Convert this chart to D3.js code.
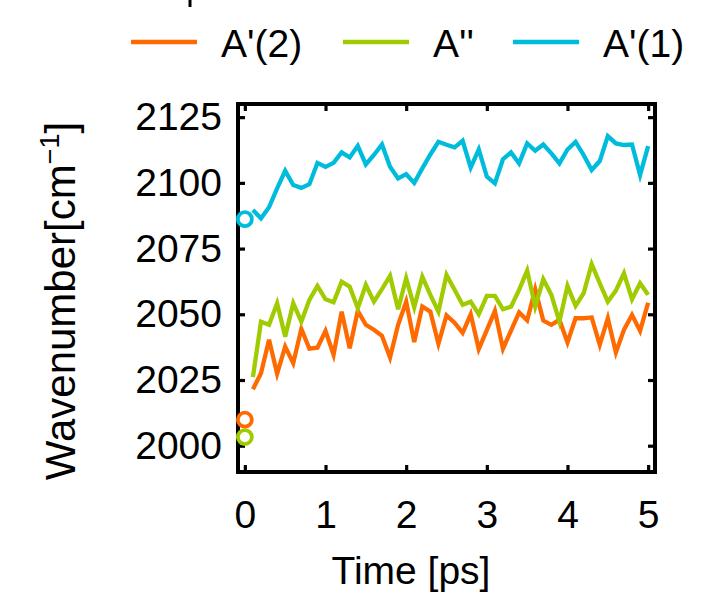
<!DOCTYPE html>
<html>
<head>
<meta charset="utf-8">
<script src="https://cdn.jsdelivr.net/npm/d3@7"></script>
<style>
  html, body { margin: 0; padding: 0; background: #ffffff; }
  svg { display: block; }
  text { font-family: "Liberation Sans", Arial, Helvetica, sans-serif; fill: #000; }
</style>
</head>
<body>
<svg id="chart" width="715" height="592"></svg>
<script>
// Time axis (ps): one sample every 0.1 ps from 0.1 to 5.0
const times = [0.1,0.2,0.3,0.4,0.5,0.6,0.7,0.8,0.9,1.0,
               1.1,1.2,1.3,1.4,1.5,1.6,1.7,1.8,1.9,2.0,
               2.1,2.2,2.3,2.4,2.5,2.6,2.7,2.8,2.9,3.0,
               3.1,3.2,3.3,3.4,3.5,3.6,3.7,3.8,3.9,4.0,
               4.1,4.2,4.3,4.4,4.5,4.6,4.7,4.8,4.9,5.0];

// Wavenumbers (cm^-1) of each mode
const aPrime2 = [2021.5,2027.6,2040.3,2027.4,2037.7,2031.4,2044.5,2036.9,2037.3,2043.7,
                 2034.6,2051.0,2037.1,2051.3,2046.0,2044.1,2041.8,2033.6,2046.0,2054.8,
                 2039.4,2053.0,2051.0,2038.8,2049.6,2046.8,2042.9,2050.0,2036.8,2044.0,
                 2051.3,2036.9,2043.8,2050.7,2047.7,2059.5,2047.6,2046.0,2047.9,2039.3,
                 2048.5,2048.5,2048.8,2038.4,2048.5,2035.5,2044.1,2049.8,2043.7,2054.4];

const aDouble = [2026.1,2047.2,2046.0,2054.2,2041.5,2054.2,2047.2,2055.5,2060.8,2055.7,
                 2054.6,2062.4,2060.5,2052.3,2061.2,2054.8,2059.6,2064.6,2051.9,2063.7,
                 2052.7,2064.3,2057.4,2051.0,2065.0,2059.3,2053.6,2054.8,2050.0,2057.0,
                 2057.0,2051.9,2052.9,2059.3,2066.6,2052.9,2063.3,2057.4,2047.2,2060.8,
                 2053.2,2058.0,2069.1,2061.8,2054.8,2059.0,2065.6,2055.7,2061.8,2057.4];

const aPrime1 = [2089.7,2086.5,2090.7,2097.9,2104.6,2099.2,2098.1,2099.5,2107.6,2106.1,
                 2107.6,2111.6,2109.7,2114.1,2107.0,2110.6,2114.6,2106.1,2101.7,2103.3,
                 2100.0,2105.5,2110.8,2115.6,2114.5,2113.5,2116.0,2105.8,2112.7,2102.4,
                 2099.8,2109.0,2111.6,2107.4,2115.0,2112.2,2114.6,2111.2,2107.4,2112.7,
                 2115.6,2110.6,2104.9,2108.3,2117.8,2115.0,2114.4,2114.6,2103.0,2114.0];

// Starting (t = 0) values shown as open circles
const startTimes = [0, 0, 0];
const startValues = [2009.9, 2003.3, 2086.2];

const seriesNames = ["A'(2)", "A''", "A'(1)"];
const seriesColors = ["#ff6a00", "#9fcb00", "#00bcdc"];
const seriesValues = [aPrime2, aDouble, aPrime1];

const xTicks = [0, 1, 2, 3, 4, 5];
const yTicks = [2000, 2025, 2050, 2075, 2100, 2125];

const svg = d3.select("#chart");
const plotLeft = 238, plotRight = 655, plotTop = 104, plotBottom = 472;

const x = d3.scaleLinear().domain([-0.085, 5.085]).range([plotLeft, plotRight]);
const y = d3.scaleLinear().domain([1990, 2130]).range([plotBottom, plotTop]);

const tickLen = 7;
const fontSize = 39;

// Mirrored inward ticks on all four sides
const axisStyle = g => {
  g.select(".domain").remove();
  g.selectAll(".tick line").attr("stroke", "#000").attr("stroke-width", 3.2);
  g.selectAll(".tick text").attr("font-size", fontSize)
    .style("font-family", '"Liberation Sans", Arial, Helvetica, sans-serif');
};

svg.append("g").attr("transform", `translate(0,${plotBottom})`)
  .call(d3.axisBottom(x).tickValues(xTicks).tickFormat(d3.format("d"))
        .tickSizeInner(-tickLen).tickPadding(28))
  .call(axisStyle)
  .call(g => g.selectAll(".tick text").attr("dy", "0.71em"));

svg.append("g").attr("transform", `translate(0,${plotTop})`)
  .call(d3.axisTop(x).tickValues(xTicks).tickFormat("").tickSizeInner(-tickLen))
  .call(axisStyle);

svg.append("g").attr("transform", `translate(${plotLeft},0)`)
  .call(d3.axisLeft(y).tickValues(yTicks).tickFormat(d3.format("d"))
        .tickSizeInner(-tickLen).tickPadding(16))
  .call(axisStyle);

svg.append("g").attr("transform", `translate(${plotRight},0)`)
  .call(d3.axisRight(y).tickValues(yTicks).tickFormat("").tickSizeInner(-tickLen))
  .call(axisStyle);

// Frame
svg.append("rect")
  .attr("x", plotLeft).attr("y", plotTop)
  .attr("width", plotRight - plotLeft).attr("height", plotBottom - plotTop)
  .attr("fill", "none").attr("stroke", "#000").attr("stroke-width", 4);

// Series lines
const line = d3.line().x((d, i) => x(times[i])).y(d => y(d));
const plot = svg.append("g");
seriesValues.forEach((vals, k) => {
  plot.append("path")
    .datum(vals)
    .attr("d", line)
    .attr("fill", "none")
    .attr("stroke", seriesColors[k])
    .attr("stroke-width", 4.3)
    .attr("stroke-linejoin", "miter");
});

// Initial values as open circles
plot.selectAll("circle.start")
  .data(startValues)
  .join("circle")
  .attr("class", "start")
  .attr("cx", (d, i) => x(startTimes[i]))
  .attr("cy", d => y(d))
  .attr("r", 7)
  .attr("fill", "#fff")
  .attr("stroke", (d, i) => seriesColors[i])
  .attr("stroke-width", 3.8);

// Axis titles
svg.append("text")
  .attr("x", 411).attr("y", 584)
  .attr("text-anchor", "middle")
  .attr("font-size", fontSize)
  .text("Time [ps]");

const yTitle = svg.append("text")
  .attr("transform", "translate(75,301) rotate(-90)")
  .attr("text-anchor", "middle")
  .attr("font-size", 42);
yTitle.append("tspan").text("Wavenumber[cm");
yTitle.append("tspan").attr("font-size", 27).attr("dy", -16).text("−1");
yTitle.append("tspan").attr("dy", 16).text("]");

// Legend across the top
const legendX = [131, 343, 513];
const legend = svg.append("g");
seriesNames.forEach((name, k) => {
  legend.append("line")
    .attr("x1", legendX[k]).attr("x2", legendX[k] + 66)
    .attr("y1", 42).attr("y2", 42)
    .attr("stroke", seriesColors[k]).attr("stroke-width", 4.5);
  legend.append("text")
    .attr("x", legendX[k] + 90).attr("y", 57)
    .attr("font-size", fontSize)
    .text(name);
});

// Descender of the clipped title line above the legend
svg.append("line")
  .attr("x1", 190).attr("x2", 190).attr("y1", 0).attr("y2", 7)
  .attr("stroke", "#000").attr("stroke-width", 3);
</script>
</body>
</html>
